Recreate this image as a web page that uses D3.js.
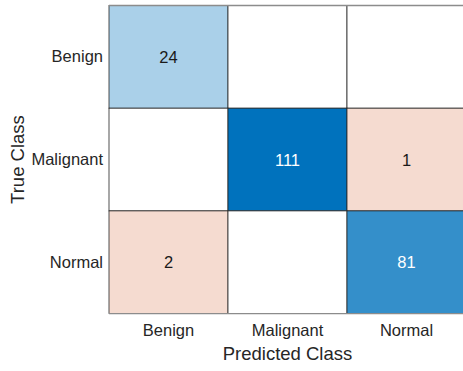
<!DOCTYPE html>
<html>
<head>
<meta charset="utf-8">
<script src="https://cdn.jsdelivr.net/npm/d3@7"></script>
<style>
  html, body { margin: 0; padding: 0; background: #fff; }
  svg { display: block; }
  text { font-family: "Liberation Sans", Arial, Helvetica, sans-serif; }
</style>
</head>
<body>
<svg id="chart" width="463" height="371"></svg>
<script>
// Confusion matrix counts (rows = true class, columns = predicted class)
const classes = ["Benign", "Malignant", "Normal"];
const trueClass = ["Benign", "Benign", "Benign", "Malignant", "Malignant", "Malignant", "Normal", "Normal", "Normal"];
const predClass = ["Benign", "Malignant", "Normal", "Benign", "Malignant", "Normal", "Benign", "Malignant", "Normal"];
const counts = [24, 0, 0, 0, 111, 1, 2, 0, 81];

const cells = counts.map((v, i) => ({ t: trueClass[i], p: predClass[i], v }));

const svg = d3.select("#chart");
const gridLeft = 109, gridTop = 5.5, cellW = 119, cellH = 102.7;

const x = d3.scaleBand().domain(classes).range([gridLeft, gridLeft + cellW * classes.length]);
const y = d3.scaleBand().domain(classes).range([gridTop, gridTop + cellH * classes.length]);

const maxDiag = d3.max(cells.filter(d => d.t === d.p), d => d.v);
const diagShade = d3.scalePow().exponent(0.72).domain([0, maxDiag]).range([0, 1]);
const diagColor = d3.interpolateRgb("#ffffff", "#0072bd");
const offColor = "#f5dbd0";

function fill(d) {
  if (d.v === 0) return "#ffffff";
  if (d.t === d.p) return diagColor(diagShade(d.v));
  return offColor;
}

const g = svg.append("g");
g.selectAll("rect.cell")
  .data(cells)
  .join("rect")
  .attr("class", "cell")
  .attr("x", d => x(d.p))
  .attr("y", d => y(d.t))
  .attr("width", x.bandwidth())
  .attr("height", y.bandwidth())
  .attr("fill", fill)
  .attr("stroke", "#262626")
  .attr("stroke-width", 0.8);

g.selectAll("text.val")
  .data(cells.filter(d => d.v > 0))
  .join("text")
  .attr("class", "val")
  .attr("x", d => x(d.p) + x.bandwidth() / 2)
  .attr("y", d => y(d.t) + y.bandwidth() / 2)
  .attr("text-anchor", "middle")
  .attr("dominant-baseline", "central")
  .attr("font-size", 16.5)
  .attr("fill", d => (d.t === d.p && diagShade(d.v) > 0.6) ? "#ffffff" : "#1a1a1a")
  .text(d => d.v);

// Outer frame top and bottom edges
const [x0, x1] = x.range();
const [y0, y1] = y.range();
svg.append("line").attr("x1", x0).attr("x2", 463).attr("y1", y0).attr("y2", y0)
  .attr("stroke", "#8c8c8c").attr("stroke-width", 1.4);
svg.append("line").attr("x1", x0).attr("x2", 463).attr("y1", y1).attr("y2", y1)
  .attr("stroke", "#8c8c8c").attr("stroke-width", 1.4);

// Axes
const xAxis = d3.axisBottom(x).tickSize(0).tickPadding(11);
const yAxis = d3.axisLeft(y).tickSize(0).tickPadding(6);

const gx = svg.append("g").attr("transform", `translate(0,${y1})`).call(xAxis);
const gy = svg.append("g").attr("transform", `translate(${x0},0)`).call(yAxis);
[gx, gy].forEach(a => {
  a.select(".domain").remove();
  a.selectAll("text")
    .attr("font-family", "'Liberation Sans', Arial, sans-serif")
    .attr("font-size", 16.5)
    .attr("fill", "#262626");
});

svg.append("text")
  .attr("x", (x0 + x1) / 2)
  .attr("y", 360)
  .attr("text-anchor", "middle")
  .attr("font-size", 18.5)
  .attr("fill", "#262626")
  .text("Predicted Class");

svg.append("text")
  .attr("transform", `translate(24,${(y0 + y1) / 2}) rotate(-90)`)
  .attr("text-anchor", "middle")
  .attr("font-size", 18.5)
  .attr("fill", "#262626")
  .text("True Class");
</script>
</body>
</html>
